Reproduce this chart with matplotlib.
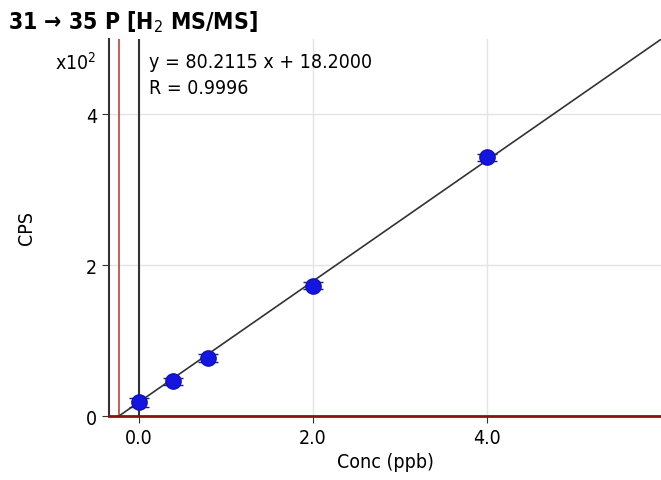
import matplotlib
matplotlib.use('Agg')
import matplotlib.pyplot as plt

conc = [0.0, 0.4, 0.8, 2.0, 4.0]
cps = [18, 46, 77, 173, 343]
cps_err = [6, 5, 5, 5, 5]
slope = 80.2115
intercept = 18.2000
r_value = 0.9996
x_ticks = [0.0, 2.0, 4.0]
y_ticks = [0, 200, 400]
y_tick_labels = ['0', '2', '4']

plt.rcParams['font.family'] = ['DejaVu Sans']
plt.rcParams['font.stretch'] = 'condensed'

fig = plt.figure(figsize=(6.61, 4.81), dpi=100)
ax = fig.add_axes([0.165, 0.133, 0.835, 0.784])

x0 = -intercept / slope
x1 = 6.0
ax.set_xlim(-0.34, x1)
ax.set_ylim(0, 500)

ax.grid(True, color='#e4e4e4', lw=1)
ax.set_axisbelow(True)

# fit line
ax.plot([x0, x1], [0, slope * x1 + intercept], color='#333333', lw=1.2, zorder=3)
# markers at x=0 and the x-intercept
ax.axvline(0, color='#333333', lw=1.5, zorder=2)
ax.axvline(x0, color='#c04040', lw=1.2, zorder=2)

ax.errorbar(conc, cps, yerr=cps_err, fmt='o', ms=11, mfc='#1515e0', mec='#1010c0',
            ecolor='#202060', elinewidth=1, capsize=7, zorder=4)

for s in ['top', 'right']:
    ax.spines[s].set_visible(False)
ax.spines['left'].set_color('#333333')
ax.spines['left'].set_linewidth(1.5)
ax.spines['bottom'].set_color('#8b1010')
ax.spines['bottom'].set_linewidth(2)

ax.set_xticks(x_ticks)
ax.set_xticklabels(['%.1f' % v for v in x_ticks])
ax.set_yticks(y_ticks)
ax.set_yticklabels(y_tick_labels)
ax.tick_params(labelsize=14, length=5, color='#333333')

ax.set_xlabel('Conc (ppb)', fontsize=14)
ax.set_ylabel('CPS', fontsize=14, labelpad=36)

fig.text(0.012, 0.955, '31 \u2192 35 P [H$_2$ MS/MS]', fontsize=16.5, fontweight='bold',
         va='center')
fig.text(0.083, 0.87, 'x10$^2$', fontsize=14, va='center')
fig.text(0.226, 0.87, 'y = %.4f x + %.4f' % (slope, intercept), fontsize=14, va='center')
fig.text(0.226, 0.817, 'R = %.4f' % r_value, fontsize=14, va='center')

fig.savefig('out.png', dpi=100)
